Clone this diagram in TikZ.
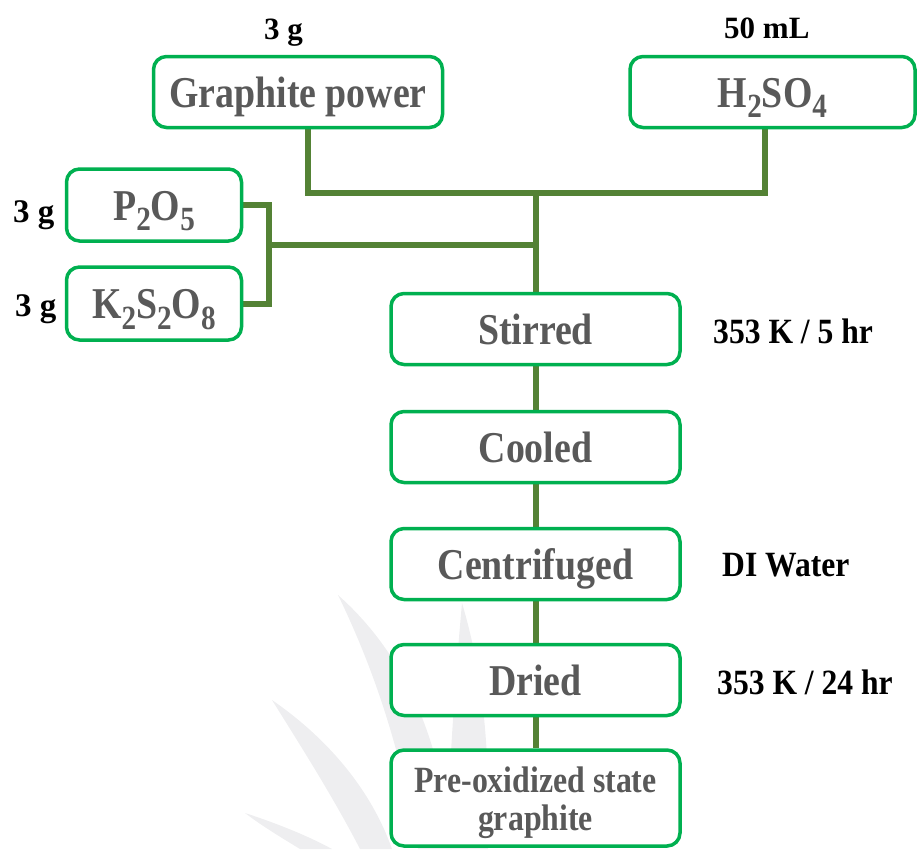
\documentclass[tikz,border=0pt]{standalone}
\usepackage{fontspec}
\setmainfont{Liberation Serif}
\newfontfamily\boxf[FakeStretch=0.86]{Liberation Serif}
\newfontfamily\lblf[FakeStretch=0.89]{Liberation Serif}
\usetikzlibrary{backgrounds}
\definecolor{boxgreen}{HTML}{00B050}
\definecolor{lineolive}{HTML}{548235}
\definecolor{txtgray}{HTML}{595959}
\definecolor{wmgray}{HTML}{EEEEF0}
\newcommand\chsub[1]{\raisebox{-0.24em}{\scalebox{0.77}{#1}}}
\tikzset{
  procbox/.style={draw=boxgreen, line width=3.5pt, rounded corners=13pt, fill=white,
    inner sep=0pt, minimum width=289pt, minimum height=71pt, text=txtgray,
    font=\boxf\bfseries\fontsize{44}{48}\selectfont, text height=30pt, text depth=0pt},
  smallbox/.style={procbox, minimum width=175pt, minimum height=72pt},
  prebox/.style={draw=boxgreen, line width=3.5pt, rounded corners=13pt, fill=white,
    inner sep=0pt, minimum width=289pt, minimum height=96pt, text=txtgray, align=center,
    font=\boxf\bfseries\fontsize{37}{38}\selectfont},
  conn/.style={draw=lineolive, line width=6pt},
  toplbl/.style={font=\bfseries\fontsize{31}{34}\selectfont, anchor=base west, inner sep=0pt},
  leftlbl/.style={font=\bfseries\fontsize{33}{36}\selectfont, anchor=base west, inner sep=0pt},
  sidelbl/.style={font=\lblf\bfseries\fontsize{35.5}{38}\selectfont, anchor=base west, inner sep=0pt},
  wm/.style={fill=wmgray, draw=none},
}
\begin{document}
\begin{tikzpicture}[x=1pt,y=-1pt]
\useasboundingbox (0,0) rectangle (917,849);

% boxes
\node[procbox] (gp) at (298,92) {Graphite power};
\node[procbox, minimum width=285pt] (h2) at (772.5,92) {H\chsub{2}SO\chsub{4}};
\node[smallbox] (p2) at (154,205) {P\chsub{2}O\chsub{5}};
\node[smallbox, minimum height=73pt] (k2) at (154,303.5) {K\chsub{2}S\chsub{2}O\chsub{8}};
\node[procbox] (st) at (535.5,329) {Stirred};
\node[procbox] (co) at (535.5,447) {Cooled};
\node[procbox] (ce) at (535.5,564) {Centrifuged};
\node[procbox] (dr) at (535.5,680) {Dried};
\node[prebox] (pre) at (535.5,798) {\rule{0pt}{35pt}Pre-oxidized state\\graphite};

% labels
\node[toplbl] (lgp) at (264,39) {3 g};
\node[toplbl] (lh2) at (724,38) {50 mL};
\node[leftlbl] (lp2) at (13,222) {3 g};
\node[leftlbl] (lk2) at (15,316) {3 g};
\node[sidelbl] (lst) at (713,343) {353 K / 5 hr};
\node[sidelbl] (lce) at (722,576) {DI Water};
\node[sidelbl] (ldr) at (717,694) {353 K / 24 hr};

% junction points
\coordinate (jl) at (308,193);
\coordinate (jr) at (765,193);
\coordinate (jc) at (535.5,193);
\coordinate (jm) at (535.5,245);
\coordinate (jb) at (269,245);

\begin{pgfonlayer}{background}
  % faint watermark leaves
  \fill[wm] (338,595) .. controls (400,650) and (440,730) .. (452,849) -- (418,849)
     .. controls (400,745) and (372,665) .. cycle;
  \fill[wm] (272,700) .. controls (330,740) and (372,792) .. (392,849) -- (360,849)
     .. controls (332,795) and (300,745) .. cycle;
  \fill[wm] (245,813) .. controls (282,825) and (312,838) .. (332,849) -- (300,849)
     .. controls (282,838) and (262,826) .. cycle;
  \fill[wm] (462,603) .. controls (485,680) and (490,760) .. (488,849) -- (446,849)
     .. controls (450,760) and (455,680) .. cycle;
  % connectors
  \draw[conn] (gp.south -| jl) -- (jl) -- (jr) -- (h2.south -| jr);
  \draw[conn] (jc) -- (st.north);
  \draw[conn] (jb) -- (jm);
  \draw[conn] (p2.east) -- (p2.east -| jb) -- (k2.east -| jb) -- (k2.east);
  \draw[conn] (st.south) -- (co.north);
  \draw[conn] (co.south) -- (ce.north);
  \draw[conn] (ce.south) -- (dr.north);
  \draw[conn] (dr.south) -- (pre.north);
\end{pgfonlayer}
\end{tikzpicture}
\end{document}
